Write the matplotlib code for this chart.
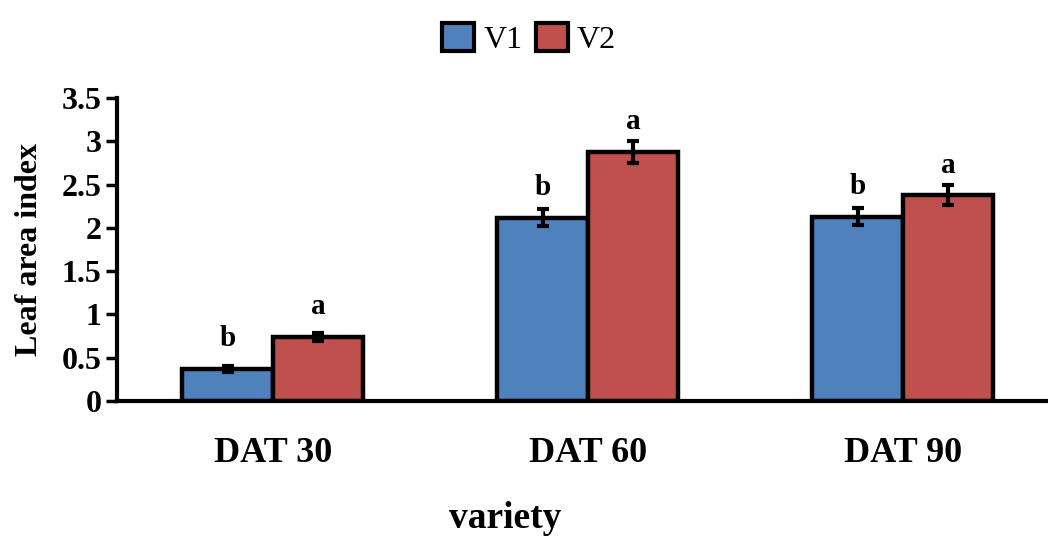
import numpy as np
import matplotlib.pyplot as plt
from matplotlib.patches import Patch

categories = ["DAT 30", "DAT 60", "DAT 90"]
v1 = [0.37, 2.12, 2.13]
v2 = [0.74, 2.88, 2.38]
v1_err = [0.035, 0.10, 0.10]
v2_err = [0.046, 0.127, 0.115]
v1_letters = ["b", "b", "b"]
v2_letters = ["a", "a", "a"]

blue = "#4F81BD"
red = "#C0504D"

plt.rcParams['font.family'] = ['Liberation Serif', 'DejaVu Serif']

fig = plt.figure(figsize=(10.48, 5.39), dpi=100)
ax = fig.add_axes([0.1116, 0.256, 0.9, 0.562])

x = np.arange(len(categories))
w = 0.287

ax.bar(x - w / 2, v1, w, color=blue, edgecolor="black", linewidth=3.2, zorder=2)
ax.bar(x + w / 2, v2, w, color=red, edgecolor="black", linewidth=3.2, zorder=2)
ax.errorbar(x - w / 2, v1, yerr=v1_err, fmt="none", ecolor="black",
            elinewidth=3, capsize=4, capthick=3, zorder=3)
ax.errorbar(x + w / 2, v2, yerr=v2_err, fmt="none", ecolor="black",
            elinewidth=3, capsize=4, capthick=3, zorder=3)

# letters sit a fixed distance above the bar top
for i in range(len(categories)):
    ax.text(x[i] - w / 2, v1[i] + 0.26, v1_letters[i],
            ha="center", va="baseline", fontsize=21, fontweight="bold")
    ax.text(x[i] + w / 2, v2[i] + 0.26, v2_letters[i],
            ha="center", va="baseline", fontsize=21, fontweight="bold")

ax.set_xlim(-0.495, 2.5)
ax.set_ylim(0, 3.5)
ax.set_yticks([0, 0.5, 1, 1.5, 2, 2.5, 3, 3.5])
ax.set_yticklabels(["0", "0.5", "1", "1.5", "2", "2.5", "3", "3.5"])
ax.set_xticks(x)
ax.set_xticklabels(categories)

for lab in ax.get_yticklabels():
    lab.set_fontsize(23)
    lab.set_fontweight("bold")
for lab in ax.get_xticklabels():
    lab.set_fontsize(26)
    lab.set_fontweight("bold")

ax.tick_params(axis="y", direction="out", length=8, width=2.5, pad=3)
ax.tick_params(axis="x", length=0, pad=26)

ax.spines["top"].set_visible(False)
ax.spines["right"].set_visible(False)
ax.spines["left"].set_linewidth(3)
ax.spines["bottom"].set_linewidth(3)

ax.set_ylabel("Leaf area index", fontsize=23, fontweight="bold", labelpad=13)
fig.text(0.482, 0.038, "variety", ha="center", va="center",
         fontsize=27, fontweight="bold")

handles = [Patch(facecolor=blue, edgecolor="black", linewidth=3, label="V1"),
           Patch(facecolor=red, edgecolor="black", linewidth=3, label="V2")]
fig.legend(handles=handles, loc="center", bbox_to_anchor=(0.505, 0.928), ncol=2,
           frameon=False, fontsize=23, handlelength=1.0, handleheight=1.0,
           handletextpad=0.3, columnspacing=0.4)

fig.savefig("out.png", dpi=100)
